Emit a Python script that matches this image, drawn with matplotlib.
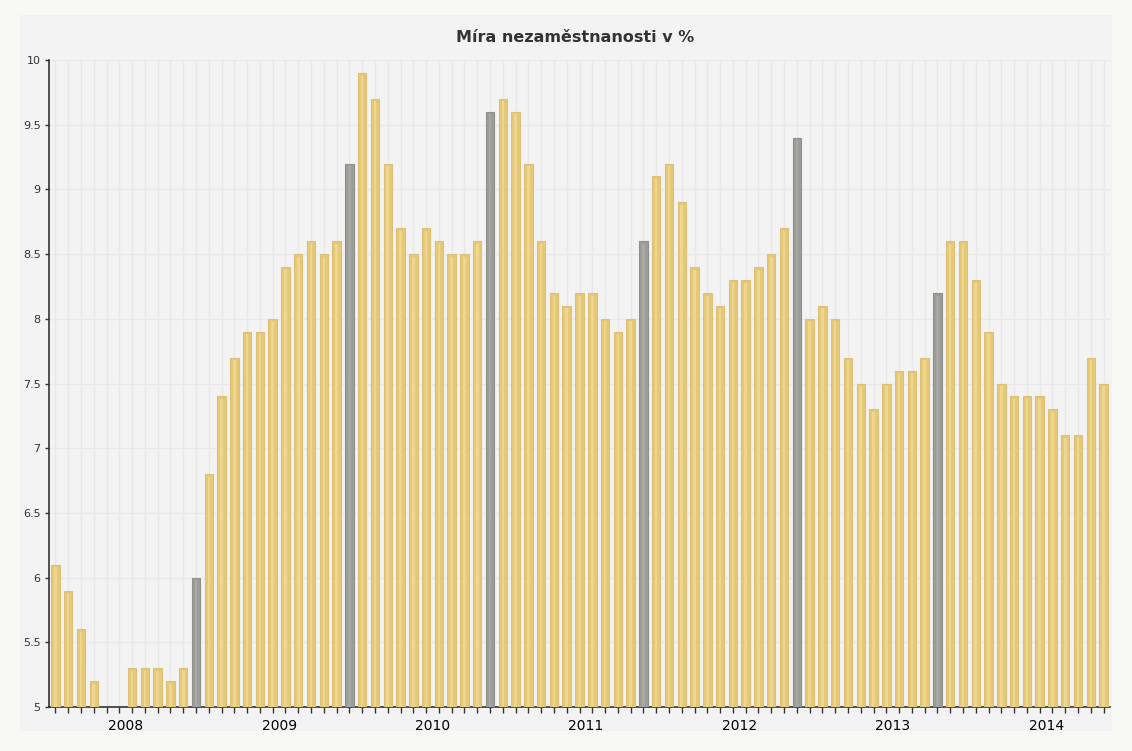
import numpy as np
import matplotlib
matplotlib.use("Agg")
import matplotlib.pyplot as plt
from matplotlib.patches import Rectangle

# ===============================
# Data (monthly unemployment rate, Jan 2008 - Nov 2014)
# ===============================
title = "Míra nezaměstnanosti v %"
years = ["2008", "2009", "2010", "2011", "2012", "2013", "2014"]

values = [
    6.1, 5.9, 5.6, 5.2, np.nan, np.nan, 5.3, 5.3, 5.3, 5.2, 5.3, 6.0,
    6.8, 7.4, 7.7, 7.9, 7.9, 8.0, 8.4, 8.5, 8.6, 8.5, 8.6, 9.2,
    9.9, 9.7, 9.2, 8.7, 8.5, 8.7, 8.6, 8.5, 8.5, 8.6, 9.6,
    9.7, 9.6, 9.2, 8.6, 8.2, 8.1, 8.2, 8.2, 8.0, 7.9, 8.0, 8.6,
    9.1, 9.2, 8.9, 8.4, 8.2, 8.1, 8.3, 8.3, 8.4, 8.5, 8.7, 9.4,
    8.0, 8.1, 8.0, 7.7, 7.5, 7.3, 7.5, 7.6, 7.6, 7.7, 8.2,
    8.6, 8.6, 8.3, 7.9, 7.5, 7.4, 7.4, 7.4, 7.3, 7.1, 7.1, 7.7, 7.5,
]
# highlighted (grey) months
highlight = [11, 23, 34, 46, 58, 69]

# ===============================
# Plot
# ===============================
baseline = 5.0
x = np.arange(len(values))
vals = np.array(values)
colors = ["#9c9c98" if i in highlight else "#e6c977" for i in x]
edges = ["#8f8f8b" if i in highlight else "#dcc07a" for i in x]
lights = ["#a8a8a4" if i in highlight else "#efd68e" for i in x]

fig = plt.figure(figsize=(11.32, 7.51), dpi=100)
fig.patch.set_facecolor("#f8f8f4")
fig.patches.append(Rectangle((20 / 1132, 1 - 731 / 751), 1092 / 1132, 716 / 751,
                             transform=fig.transFigure, facecolor="#f3f3f3",
                             edgecolor="none", zorder=-5))

ax = fig.add_axes([49 / 1132, 1 - 707 / 751, 1061 / 1132, 647 / 751])
ax.set_facecolor("#f3f3f3")

ax.bar(x, vals - baseline, 0.66, bottom=baseline, color=colors,
       edgecolor=edges, linewidth=0.8, zorder=3)
ax.bar(x, vals - baseline - 0.02, 0.2, bottom=baseline, color=lights,
       linewidth=0, zorder=4)

ax.set_xlim(-0.5, len(values) - 0.5)
ax.set_ylim(5, 10)
ax.set_yticks(np.arange(5, 10.01, 0.5))
ax.set_yticklabels([f"{v:g}" for v in np.arange(5, 10.01, 0.5)])

# monthly ticks, year labels centred on each year
ax.set_xticks(x)
ax.set_xticklabels([])
ax.set_xticks(np.arange(len(years)) * 12 + 5.5, minor=True)
ax.set_xticklabels(years, minor=True)
ax.tick_params(axis="x", which="minor", length=0, pad=9)
ax.tick_params(axis="x", which="major", length=4, width=1, color="#333333")
ax.tick_params(axis="y", length=3, width=1, color="#333333", pad=3)
ax.tick_params(labelsize=8, labelcolor="#333333")

ax.grid(axis="x", which="major", color="#e8e8e8", linewidth=1, zorder=0)
ax.grid(axis="y", color="#eaeaea", linewidth=1, zorder=0)
ax.set_axisbelow(True)

for s in ["top", "right"]:
    ax.spines[s].set_visible(False)
for s in ["left", "bottom"]:
    ax.spines[s].set_color("#333333")
    ax.spines[s].set_linewidth(1.2)

fig.text(0.508, 1 - 37 / 751, title, ha="center", va="center",
         fontsize=11.5, fontweight="bold", color="#333333")

fig.savefig("out.png", dpi=100, facecolor=fig.get_facecolor())
